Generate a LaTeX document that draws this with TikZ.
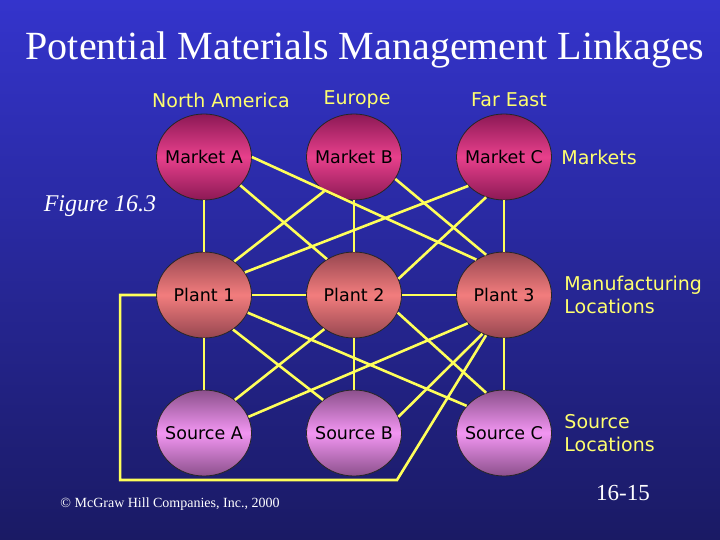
\documentclass[tikz,border=0pt]{standalone}
\usepackage{fontspec}
\setmainfont{Liberation Serif}
\newfontfamily\comicfont{DejaVu Sans}
\usepackage{tikz}
\usetikzlibrary{positioning, shapes.geometric}

\definecolor{bgtop}{RGB}{52,52,204}
\definecolor{bgbot}{RGB}{26,26,100}
\definecolor{linkyellow}{RGB}{255,255,90}
\definecolor{textyellow}{RGB}{255,255,110}
\definecolor{mktdark}{RGB}{140,25,85}
\definecolor{mktlight}{RGB}{232,64,140}
\definecolor{plantdark}{RGB}{150,70,80}
\definecolor{plantlight}{RGB}{242,125,125}
\definecolor{srcdark}{RGB}{140,80,140}
\definecolor{srclight}{RGB}{242,150,242}

\begin{document}
\begin{tikzpicture}[x=1pt, y=-1pt, node distance=138pt and 150pt,
        loc/.style={ellipse, draw=black!85, line width=0.8pt, minimum width=95pt, minimum height=86pt, inner sep=0pt, text=black, font=\comicfont\fontsize{17.5}{21}\selectfont,
            execute at begin node={\hbox to 0pt\bgroup\hss}, execute at end node={\hss\egroup}},
        market/.style={loc, top color=mktdark, bottom color=mktdark, middle color=mktlight},
        plant/.style={loc, top color=plantdark, bottom color=plantdark, middle color=plantlight},
        source/.style={loc, top color=srcdark, bottom color=srcdark, middle color=srclight},
        region/.style={text=textyellow, align=left, font=\comicfont\fontsize{19}{23}\selectfont},
        link/.style={draw=linkyellow, line width=2.6pt}]
        \useasboundingbox (0,0) rectangle (720,540);
        \shade[top color=bgtop, bottom color=bgbot] (0,0) rectangle (720,540);

        \node[text=white, font=\fontsize{40}{44}\selectfont] (title) at (365,50) {Potential Materials Management Linkages};

        % markets, plants and sources
        \node[market] (mA) at (204,157) {Market A};
        \node[market, on grid, right=of mA] (mB) {Market B};
        \node[market, on grid, right=of mB] (mC) {Market C};
        \node[plant, on grid, below=of mA] (p1) {Plant 1};
        \node[plant, on grid, right=of p1] (p2) {Plant 2};
        \node[plant, on grid, right=of p2] (p3) {Plant 3};
        \node[source, on grid, below=of p1] (sA) {Source A};
        \node[source, on grid, right=of sA] (sB) {Source B};
        \node[source, on grid, right=of sB] (sC) {Source C};

        \node[region, on grid, above=57pt of mA, xshift=17pt] (na) {North America};
        \node[region, on grid, above=57pt of mB, xshift=3pt] (eu) {Europe};
        \node[region, on grid, above=57pt of mC, xshift=5pt] (fe) {Far East};

        \node[region, anchor=west] (lblMkt) at ([xshift=6pt]mC.east) {Markets};
        \node[region, anchor=west] (lblMfg) at ([xshift=9pt]p3.east) {Manufacturing\\Locations};
        \node[region, anchor=west] (lblSrc) at ([xshift=9pt]sC.east) {Source\\Locations};

        \node[text=white, font=\itshape\fontsize{24}{28}\selectfont] (fig) at (100,206) {Figure 16.3};
        \node[text=white, font=\fontsize{23}{26}\selectfont] (page) at (623,493) {16-15};
        \node[text=white, font=\fontsize{14}{16}\selectfont] (copy) at (170,504) {\textcopyright{} McGraw Hill Companies, Inc., 2000};

        % linkages
        \foreach \a/\b in {mA/p1, mB/p2, mC/p3, p1/sA, p2/sB, p3/sC, p1/p2, p2/p3}
            \draw[link] (\a) -- (\b);
        \foreach \a/\b in {mA.-38/p2.127, mA.0/p3.128, mB.-131/p1.48, mB.-28/p3.114,
                           mC.219/p1.29, mC.246/p2.20, p1.-50/sB.133, p1.-22/sC.144,
                           p2.229/sA.47, p2.-22/sC.114, sA.20/p3.218, sB.20/p3.241}
            \draw[link] (\a) -- (\b);
        \coordinate (loopcorner) at (397,480);
        \draw[link] (p1.west) -- ++(-36,0) |- (loopcorner) -- (p3.246);
    \end{tikzpicture}
\end{document}
